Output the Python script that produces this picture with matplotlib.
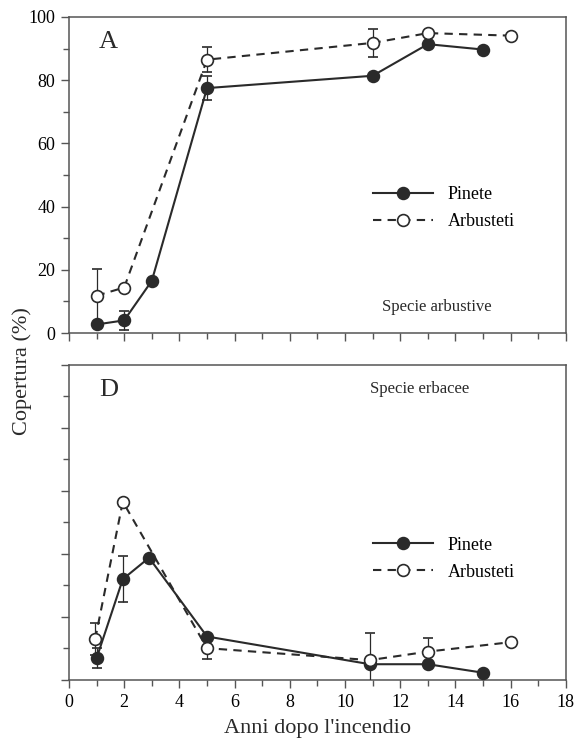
import matplotlib
matplotlib.use('Agg')
import matplotlib.pyplot as plt
import numpy as np
from matplotlib.lines import Line2D
from matplotlib.ticker import MultipleLocator, NullFormatter

plt.rcParams['font.family'] = ['Liberation Serif', 'DejaVu Serif']

# panel A - specie arbustive
a_pin_x = [1, 2, 3, 5, 11, 13, 15]
a_pin_y = [2.7, 4.0, 16.5, 77.5, 81.4, 91.4, 89.7]
a_pin_err = [0, 3.0, 0, 3.8, 0, 0, 0]
a_arb_x = [1, 2, 5, 11, 13, 16]
a_arb_y = [11.8, 14.4, 86.5, 91.8, 94.9, 94.1]
a_arb_err = [8.4, 0, 4.0, 4.5, 0, 0]

# panel D - specie erbacee (y axis unlabeled)
d_pin_x = [1, 1.95, 2.9, 5, 10.9, 13, 15]
d_pin_y = [6.9, 32.0, 38.8, 13.8, 5.0, 5.0, 2.3]
d_pin_err = [3.2, 7.2, 0, 0, 0, 0, 0]
d_arb_x = [0.95, 1.95, 5, 10.9, 13, 16]
d_arb_y = [13.0, 56.6, 10.1, 6.3, 9.0, 12.0]
d_arb_err = [5.0, 0, 3.4, 8.5, 4.2, 0]

INK = '#2a2a2a'
SPINE = '#555555'
PIN_STYLE = dict(ls='-', mfc=INK)
ARB_STYLE = dict(ls=(0, (4, 3)), mfc='white')
COMMON = dict(color=INK, lw=1.5, marker='o', ms=8.5, mec=INK, mew=1.2)


def series(ax, x, y, err, filled):
    st = PIN_STYLE if filled else ARB_STYLE
    ax.errorbar(x, y, yerr=err, ecolor=INK, elinewidth=0.9, capsize=3.5,
                capthick=0.9, zorder=3 if filled else 4, **st, **COMMON)


def add_legend(ax, anchor):
    handles = [Line2D([], [], label='Pinete', **PIN_STYLE, **COMMON),
               Line2D([], [], label='Arbusteti', **ARB_STYLE, **COMMON)]
    ax.legend(handles=handles, loc='center left', bbox_to_anchor=anchor,
              frameon=False, fontsize=13, handlelength=3.3, handletextpad=0.8,
              labelspacing=0.55)


def style(ax):
    ax.set_xlim(0, 18)
    ax.set_ylim(0, 100)
    ax.xaxis.set_major_locator(MultipleLocator(2))
    ax.xaxis.set_minor_locator(MultipleLocator(1))
    ax.yaxis.set_major_locator(MultipleLocator(20))
    ax.yaxis.set_minor_locator(MultipleLocator(10))
    ax.tick_params(which='both', direction='out', color=SPINE, labelsize=13,
                   top=False, right=False, pad=4)
    ax.tick_params(which='major', length=6, width=1)
    ax.tick_params(which='minor', length=4, width=1)
    for s in ax.spines.values():
        s.set_color(SPINE)
        s.set_linewidth(1.1)


fig = plt.figure(figsize=(5.86, 7.42), dpi=100)
ax1 = fig.add_axes([0.1177, 0.5512, 0.848, 0.4259])
ax2 = fig.add_axes([0.1177, 0.0836, 0.848, 0.4245])

series(ax1, a_pin_x, a_pin_y, a_pin_err, True)
series(ax1, a_arb_x, a_arb_y, a_arb_err, False)
style(ax1)
ax1.xaxis.set_major_formatter(NullFormatter())
ax1.text(0.06, 0.92, 'A', transform=ax1.transAxes, fontsize=19, va='center', color=INK)
ax1.text(0.63, 0.083, 'Specie arbustive', transform=ax1.transAxes, fontsize=12,
         va='center', color=INK)
add_legend(ax1, (0.58, 0.395))

series(ax2, d_pin_x, d_pin_y, d_pin_err, True)
series(ax2, d_arb_x, d_arb_y, d_arb_err, False)
style(ax2)
ax2.yaxis.set_major_formatter(NullFormatter())
ax2.text(0.06, 0.92, 'D', transform=ax2.transAxes, fontsize=19, va='center', color=INK)
ax2.text(0.605, 0.925, 'Specie erbacee', transform=ax2.transAxes, fontsize=12,
         va='center', color=INK)
add_legend(ax2, (0.58, 0.385))
ax2.set_xlabel("Anni dopo l'incendio", fontsize=16, color=INK, labelpad=6)

fig.text(0.038, 0.5, 'Copertura (%)', rotation=90, fontsize=16, va='center',
         ha='center', color=INK)

fig.savefig('out.png', dpi=100)
